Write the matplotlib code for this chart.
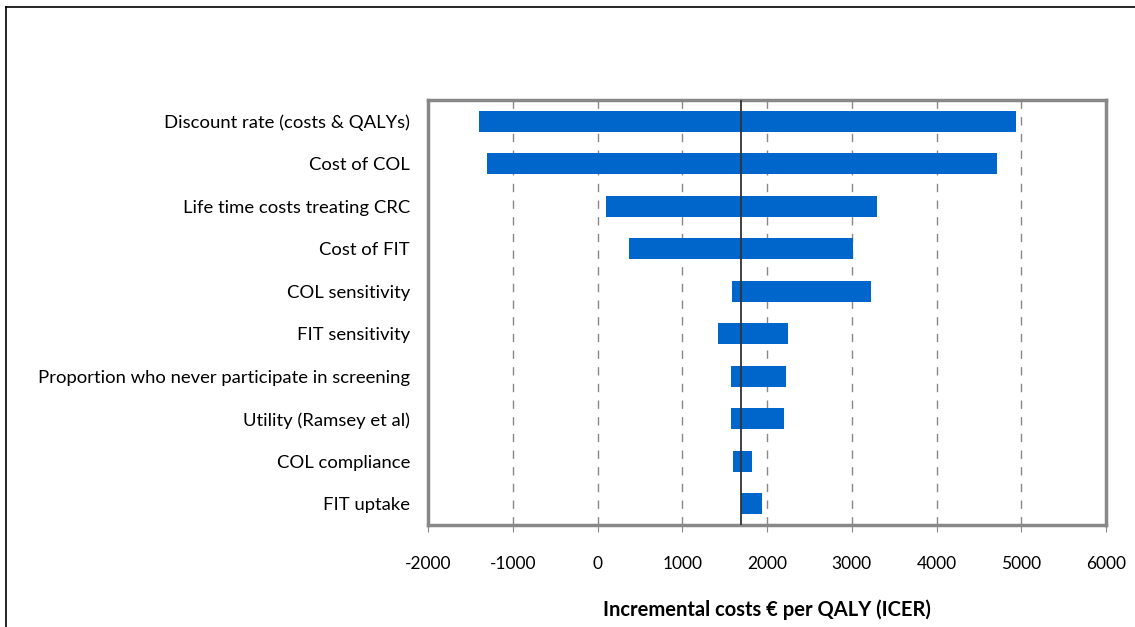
import matplotlib.pyplot as plt
from matplotlib.lines import Line2D

plt.rcParams['font.family'] = ['Lato', 'DejaVu Sans']

# tornado data (ICER, euro per QALY)
params = [
    "Discount rate (costs & QALYs)",
    "Cost of COL",
    "Life time costs treating CRC",
    "Cost of FIT",
    "COL sensitivity",
    "FIT sensitivity",
    "Proportion who never participate in screening",
    "Utility (Ramsey et al)",
    "COL compliance",
    "FIT uptake",
]
low_vals = [-1400, -1300, 100, 370, 1590, 1420, 1575, 1575, 1600, 1690]
high_vals = [4940, 4710, 3300, 3015, 3225, 2250, 2225, 2200, 1820, 1940]
base_icer = 1690
xticks = [-2000, -1000, 0, 1000, 2000, 3000, 4000, 5000, 6000]

fig = plt.figure(figsize=(11.35, 6.27), dpi=100)
ax = fig.add_axes([428/1135, 1 - 525/627, 678/1135, 425/627])

ypos = list(range(len(params)))
widths = [h - l for l, h in zip(low_vals, high_vals)]
ax.barh(ypos, widths, left=low_vals, height=0.5, color='#0066CC', zorder=3)

ax.axvline(base_icer, color='#333333', lw=1.3, zorder=4)

ax.set_xlim(-2000, 6000)
ax.set_ylim(len(params) - 0.5, -0.5)
ax.set_xticks(xticks)
ax.set_xticklabels([str(t) for t in xticks], fontsize=12.5)
ax.set_yticks(ypos)
ax.set_yticklabels(params, fontsize=13.3)

ax.xaxis.grid(True, linestyle=(0, (6, 6)), color='#888888', lw=1)
ax.set_axisbelow(True)

for s in ax.spines.values():
    s.set_color('#888888')
    s.set_linewidth(2.5)

ax.tick_params(axis='y', length=0, pad=13)
ax.tick_params(axis='x', direction='out', length=5, color='#888888', pad=17)

ax.set_xlabel('Incremental costs € per QALY (ICER)', fontsize=14.5,
              fontweight='bold', labelpad=20)

# outer chart border (cut off at right and bottom)
fig.add_artist(Line2D([6/1135, 6/1135], [0, 1 - 7/627], color='black', lw=1.2))
fig.add_artist(Line2D([6/1135, 1], [1 - 7/627, 1 - 7/627], color='black', lw=1.2))

fig.savefig('out.png', dpi=100)
